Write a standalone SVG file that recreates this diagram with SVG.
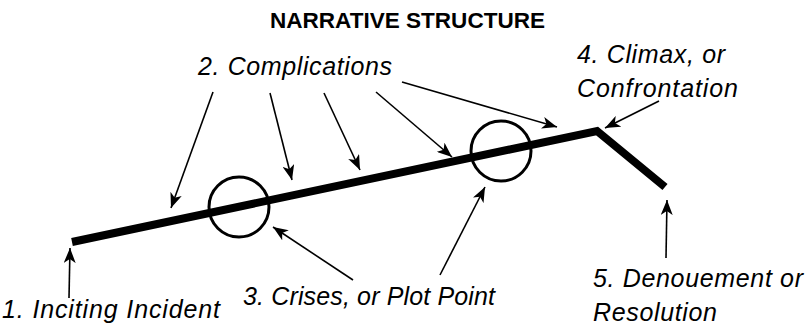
<svg xmlns="http://www.w3.org/2000/svg" width="808" height="333" viewBox="0 0 808 333">
  <style>
    .title { font-family: "Liberation Sans", Arial, sans-serif; font-weight: bold; font-size: 22px; fill: #000; }
    .lbl { font-family: "Liberation Sans", Arial, sans-serif; font-style: italic; font-size: 25px; fill: #000; }
    .arrow { stroke: #000; stroke-width: 1.6; fill: none; marker-end: url(#head); }
    .plot { stroke: #000; stroke-width: 8; fill: none; stroke-linejoin: miter; stroke-linecap: butt; }
    .ring { stroke: #000; stroke-width: 3; fill: none; }
  </style>
  <defs>
    <marker id="head" markerUnits="userSpaceOnUse" markerWidth="16" markerHeight="12" refX="15" refY="6" orient="auto">
      <path d="M0,0 L15,6 L0,12 L4,6 z" fill="#000"/>
    </marker>
  </defs>
  <rect width="808" height="333" fill="#fff"/>
  <g id="title">
    <text class="title" x="270" y="28" textLength="275" lengthAdjust="spacingAndGlyphs">NARRATIVE STRUCTURE</text>
  </g>
  <g id="plotline">
    <polyline class="plot" points="72,242 597,131 665,187"/>
  </g>
  <g id="crisis1">
    <circle class="ring" cx="239" cy="207" r="30"/>
  </g>
  <g id="crisis2">
    <circle class="ring" cx="501" cy="151" r="30"/>
  </g>
  <g id="complications">
    <text class="lbl" x="198" y="75" textLength="194">2. Complications</text>
  </g>
  <g id="climax">
    <text class="lbl" x="577" y="63" textLength="148">4. Climax, or</text>
    <text class="lbl" x="577" y="97" textLength="161">Confrontation</text>
  </g>
  <g id="inciting">
    <text class="lbl" x="2" y="318" textLength="218">1. Inciting Incident</text>
  </g>
  <g id="crises">
    <text class="lbl" x="243" y="305" textLength="252">3. Crises, or Plot Point</text>
  </g>
  <g id="denouement">
    <text class="lbl" x="593" y="287" textLength="210">5. Denouement or</text>
    <text class="lbl" x="593" y="321" textLength="124">Resolution</text>
  </g>
  <g id="connectors">
    <line class="arrow" x1="213" y1="92" x2="171" y2="208"/>
    <line class="arrow" x1="270" y1="93" x2="292" y2="180"/>
    <line class="arrow" x1="324" y1="93" x2="360" y2="170"/>
    <line class="arrow" x1="376" y1="92" x2="452" y2="157"/>
    <line class="arrow" x1="402" y1="82" x2="557" y2="127"/>
    <line class="arrow" x1="659" y1="101" x2="605" y2="128"/>
    <line class="arrow" x1="353" y1="280" x2="273" y2="227"/>
    <line class="arrow" x1="440" y1="275" x2="485" y2="187"/>
    <line class="arrow" x1="69" y1="298" x2="70" y2="248"/>
    <line class="arrow" x1="666" y1="258" x2="667" y2="200"/>
  </g>
</svg>
